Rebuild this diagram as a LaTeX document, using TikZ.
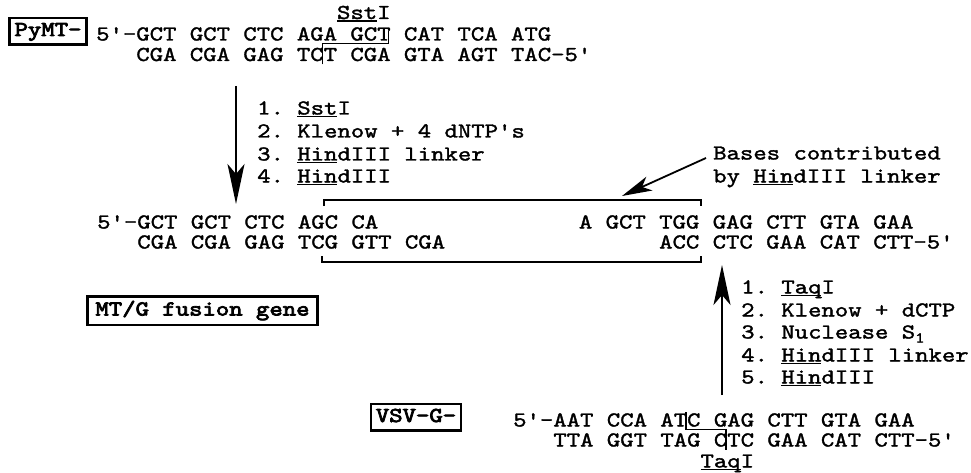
\documentclass[tikz,border=0pt]{standalone}
\usepackage{fontspec}
\newfontfamily\dnafont{lmmono10-regular.otf}[FakeStretch=1.2,FakeBold=1.6,WordSpace={1,0,0},PunctuationSpace=WordSpace]
\newfontfamily\boxfont{lmmono10-regular.otf}[FakeStretch=1.2,FakeBold=3.5,WordSpace={1,0,0},PunctuationSpace=WordSpace]
\usetikzlibrary{arrows.meta}
\newsavebox\ulbox
\newcommand\ul[1]{\sbox\ulbox{#1}\rlap{\rule[-2.6pt]{\wd\ulbox}{1.4pt}}\usebox\ulbox}
\def\cw{13.38}
\begin{document}
\frenchspacing
\begin{tikzpicture}[x=1pt,y=-1pt,
  seq/.style={font=\dnafont\fontsize{21.24}{26}\selectfont, inner sep=0pt, anchor=base west},
  gbox/.style={draw, line width=2.2pt, font=\boxfont\fontsize{21.24}{26}\selectfont,
     inner xsep=5pt, inner ysep=5pt, text height=13pt, text depth=3.5pt, anchor=base},
  bigarrow/.style={line width=2.2pt, -{Stealth[length=40pt,width=17pt,inset=10pt]}},
  ptr/.style={line width=1.8pt, -{Stealth[length=30pt,width=15pt,inset=8pt]}},
  brk/.style={line width=1.6pt},
  cutmark/.style={line width=1.3pt}]
\useasboundingbox[fill=white] (0,0) rectangle (971,473);

% ---- top: PyMT ----
\node[gbox] (pymt) at (48,36) {PyMT-};
\node[seq] (sst) at ({96+18*\cw},19) {\ul{Sst}I};
\node[seq] (t1) at (96,40.5) {5'-GCT GCT CTC AGA GCT CAT TCA ATG};
\node[seq] (t2) at ({96+3*\cw},61) {CGA CGA GAG TCT CGA GTA AGT TAC-5'};
\draw[cutmark] ({96+17*\cw-1},64.5) -- ({96+17*\cw-1},43.5) -- ({96+22*\cw-2},43.5) -- ({96+22*\cw-2},31);

% ---- down arrow and steps ----
\coordinate (da1) at (236,86);
\coordinate (da2) at (236,204);
\draw[bigarrow] (da1) -- (da2);
\node[seq] (s1) at (257,114.5) {1. \ul{Sst}I};
\node[seq] (s2) at (257,137.5) {2. Klenow + 4 dNTP's};
\node[seq] (s3) at (257,160.5) {3. \ul{Hin}dIII linker};
\node[seq] (s4) at (257,182.5) {4. \ul{Hin}dIII};

% ---- label ----
\node[seq] (bases) at (713,159.5) {Bases contributed};
\node[seq] (by) at (713,182.5) {by \ul{Hin}dIII linker};
\coordinate (ptrtail) at (706,158);
\coordinate (ptrtip) at (622,196);
\draw[ptr] (ptrtail) -- (ptrtip);

% ---- middle: fusion ----
\node[seq] (m1l) at (97,228.5) {5'-GCT GCT CTC AGC CA};
\node[seq] (m1r) at ({659-6*\cw},228.5) {A GCT TGG GAG CTT GTA GAA};
\node[seq] (m2l) at ({97+3*\cw},248.5) {CGA CGA GAG TCG GTT CGA};
\node[seq] (m2r) at (659,248.5) {ACC CTC GAA CAT CTT-5'};
\draw[brk] (324,206) -- (324,200) -- (701,200) -- (701,206);
\draw[brk] (322,256) -- (322,262) -- (701,262) -- (701,256);

\node[gbox, inner xsep=8pt, inner ysep=6pt] (mtg) at (202.5,315.5) {MT/G fusion gene};

% ---- up arrow and steps ----
\coordinate (ua1) at (722,395);
\coordinate (ua2) at (722,265);
\draw[bigarrow] (ua1) -- (ua2);
\node[seq] (u1) at (741,293.5) {1. \ul{Taq}I};
\node[seq] (u2) at (741,316.5) {2. Klenow + dCTP};
\node[seq] (u3) at (741,338.5) {3. Nuclease S\raisebox{-4pt}{\fontsize{15}{15}\selectfont 1}};
\node[seq] (u4) at (741,361.5) {4. \ul{Hin}dIII linker};
\node[seq] (u5) at (741,383.5) {5. \ul{Hin}dIII};

% ---- bottom: VSV-G ----
\node[gbox] (vsv) at (416,422) {VSV-G-};
\node[seq] (b1) at (513,426.5) {5'-AAT CCA ATC GAG CTT GTA GAA};
\node[seq] (b2) at ({513+3*\cw},446.5) {TTA GGT TAG CTC GAA CAT CTT-5'};
\node[seq] (taq) at ({513+14*\cw},467.5) {\ul{Taq}I};
\draw[cutmark] ({513+13*\cw-1},412) -- ({513+13*\cw-1},429.5) -- ({513+16*\cw-1},429.5) -- ({513+16*\cw-1},450);
\end{tikzpicture}
\end{document}
